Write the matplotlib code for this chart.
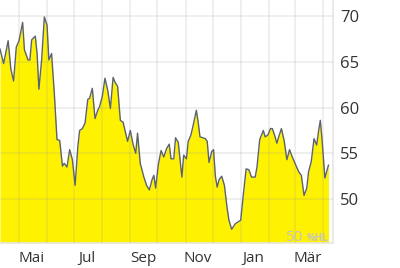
import pandas as pd
import matplotlib
matplotlib.use("Agg")
import matplotlib.pyplot as plt
import matplotlib.dates as mdates

plt.rcParams['font.family'] = ['Open Sans', 'DejaVu Sans']

# price series (days after start date, value)
start = pd.Timestamp('2023-04-10')
days = [0, 4, 9, 12, 15, 18, 21, 25, 27, 31, 33, 35, 39, 41, 43, 46, 49, 52, 54, 57,
        60, 63, 66, 69, 71, 74, 77, 80, 83, 86, 88, 91, 94, 97, 99, 102, 105, 108, 110, 113,
        116, 119, 122, 125, 127, 130, 133, 136, 141, 144, 147, 150, 152, 154, 155, 159, 162, 165, 168, 170,
        172, 175, 178, 181, 184, 187, 189, 192, 194, 197, 201, 203, 206, 208, 211, 214, 217, 219, 221, 224,
        227, 229, 231, 234, 236, 238, 240, 242, 245, 248, 251, 253, 256, 260, 263, 266, 269, 272, 275, 278,
        282, 284, 287, 291, 293, 296, 299, 301, 304, 306, 308, 311, 314, 317, 320, 323, 327, 330, 333, 336,
        339, 341, 344, 347, 350, 352, 354, 356, 359, 363]
values = [66.4, 64.8, 67.3, 64.2, 62.9, 66.6, 67.3, 69.3, 66.3, 65.2, 65.2, 67.4, 67.8, 65.9, 62.0, 65.2, 69.9, 69.0, 65.2, 65.9,
          61.6, 56.5, 56.4, 53.6, 53.9, 53.5, 55.4, 54.3, 51.5, 55.7, 57.5, 57.7, 58.3, 60.9, 61.0, 62.1, 58.8, 59.7, 60.1, 61.2,
          63.2, 61.9, 59.9, 63.3, 62.8, 62.3, 58.6, 58.4, 56.3, 57.5, 56.0, 55.0, 57.2, 55.0, 53.9, 52.4, 51.5, 51.0, 52.1, 52.6,
          51.2, 53.8, 55.3, 54.6, 55.5, 56.0, 54.4, 54.4, 56.7, 56.2, 52.4, 54.8, 54.4, 56.3, 57.0, 58.3, 59.7, 58.4, 56.8, 56.7,
          56.6, 56.3, 54.0, 55.2, 55.4, 52.5, 51.3, 52.1, 52.5, 51.5, 49.0, 47.7, 46.7, 47.3, 47.5, 47.7, 50.6, 53.3, 53.2, 52.4,
          52.4, 53.5, 56.5, 57.5, 56.8, 57.0, 57.7, 57.7, 56.8, 56.1, 56.8, 57.7, 56.4, 54.3, 55.4, 54.6, 53.7, 53.0, 52.6, 50.4,
          51.2, 53.0, 54.1, 56.6, 55.9, 57.4, 58.6, 56.4, 52.3, 53.7]

yticks = [50, 55, 60, 65, 70]
month_labels = ['Mai', 'Jul', 'Sep', 'Nov', 'Jan', 'Mär']

dates = start + pd.to_timedelta(days, unit='D')
ymin, ymax = 45.2, 71.75

fig = plt.figure(figsize=(4, 2.68), dpi=100)
ax = fig.add_axes([0, 0.0933, 0.8325, 0.9067])

ax.fill_between(dates, values, ymin, color='#fff200', lw=0, zorder=1)
ax.plot(dates, values, color='#5b6270', lw=1.0, zorder=3)

ax.set_ylim(ymin, ymax)
ax.set_xlim(start, start + pd.Timedelta(days=368))

# gridlines at month starts, labels in the middle of every second month
ax.xaxis.set_major_locator(mdates.MonthLocator())
ax.xaxis.set_major_formatter(plt.NullFormatter())
ax.xaxis.set_minor_locator(mdates.MonthLocator(bymonth=[5, 7, 9, 11, 1, 3], bymonthday=15))
ax.xaxis.set_minor_formatter(plt.FixedFormatter(month_labels))

ax.set_yticks(yticks)
ax.yaxis.tick_right()
ax.tick_params(axis='y', length=0, pad=5, labelsize=12, labelcolor='#333333')
ax.tick_params(axis='x', which='both', length=0, pad=6, labelsize=11, labelcolor='#333333')

ax.set_axisbelow(False)
ax.grid(True, which='major', color='#999999', alpha=0.18, lw=1.2, zorder=2)
for s in ['top', 'left']:
    ax.spines[s].set_visible(False)
for s in ['right', 'bottom']:
    ax.spines[s].set_color('#e6e6e6')
    ax.spines[s].set_linewidth(1.2)

# watermark
fig.text(0.757, 0.1, '50', color='#c4c4c4', fontsize=11, ha='right', va='baseline')
fig.text(0.766, 0.1, '%HL', color='#c4c4c4', fontsize=7, fontweight='bold', ha='left', va='baseline')

fig.savefig('out.png', dpi=100)
